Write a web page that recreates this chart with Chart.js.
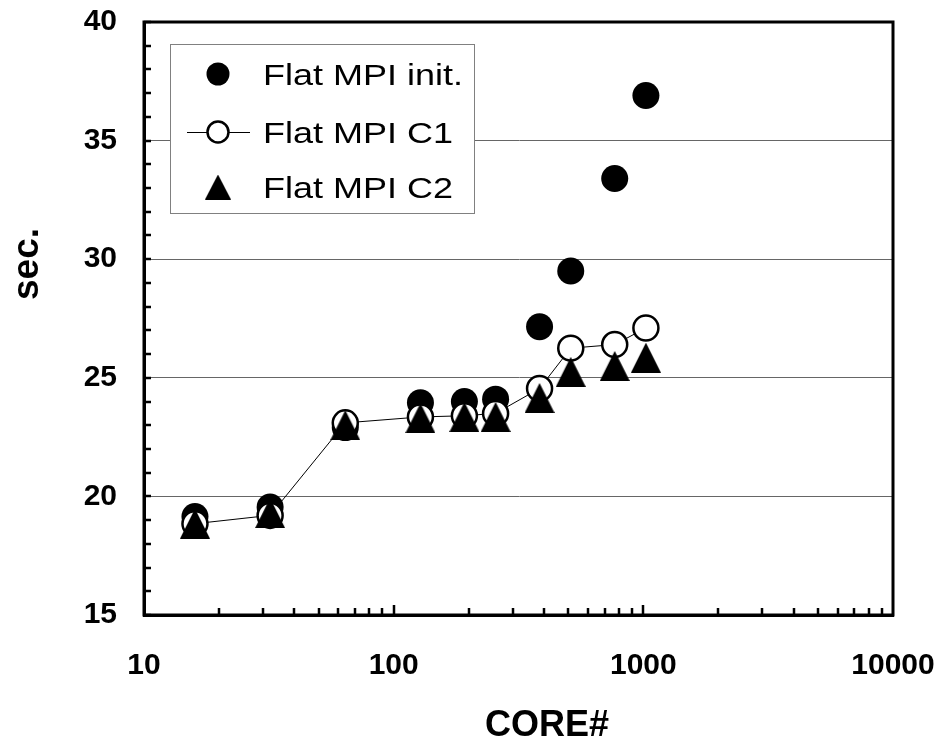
<!DOCTYPE html>
<html>
<head>
<meta charset="utf-8">
<script src="https://cdn.jsdelivr.net/npm/chart.js@4/dist/chart.umd.min.js"></script>
<style>
  html, body { margin: 0; background: #fff; }
</style>
</head>
<body>
<canvas id="chart" width="942" height="742"></canvas>
<script>
// values
const cores = [16, 32, 64, 128, 192, 256, 384, 512, 768, 1024]
const flatInit = [19.15, 19.55, 22.9, 23.95, 24.0, 24.1, 27.15, 29.5, 33.4, 36.9]
const flatC1 = [18.85, 19.2, 23.1, 23.35, 23.4, 23.5, 24.55, 26.25, 26.4, 27.1]
const flatC2 = [18.85, 19.3, 23.0, 23.3, 23.35, 23.35, 24.15, 25.25, 25.5, 25.85]
const seriesLabels = ['Flat MPI init.', 'Flat MPI C1', 'Flat MPI C2']
const xTicks = [10, 100, 1000, 10000]
const yTicks = [15, 20, 25, 30, 35, 40]

const FONT = "'Liberation Sans', Arial, sans-serif"

const toPoints = (ys) => cores.map((x, i) => ({ x, y: ys[i] }))

// Excel-style triangle marker (flat base, centred box)
function triangle(w, h) {
  const c = document.createElement('canvas')
  c.width = w
  c.height = h
  const g = c.getContext('2d')
  g.fillStyle = '#000'
  g.beginPath()
  g.moveTo(w / 2, 0)
  g.lineTo(w, h)
  g.lineTo(0, h)
  g.closePath()
  g.fill()
  return c
}

const triPlot = triangle(30, 30)
const triLegend = triangle(26, 25)

const frame = {
  id: 'frame',
  beforeDatasetsDraw(chart) {
    const { ctx, chartArea: a, scales } = chart
    ctx.save()
    ctx.strokeStyle = '#000'
    ctx.lineWidth = 3
    ctx.strokeRect(a.left, a.top, a.right - a.left, a.bottom - a.top)

    // inward minor ticks
    ctx.lineWidth = 2.5
    ctx.beginPath()
    for (let v = yTicks[0]; v <= yTicks[yTicks.length - 1]; v++) {
      const py = Math.round(scales.y.getPixelForValue(v))
      ctx.moveTo(a.left, py)
      ctx.lineTo(a.left + 7, py)
    }
    for (let d = 10; d < 10000; d *= 10) {
      for (let k = 1; k <= 9; k++) {
        if (k === 1 && d === 10) continue
        const px = Math.round(scales.x.getPixelForValue(k * d))
        ctx.moveTo(px, a.bottom)
        ctx.lineTo(px, a.bottom - (k === 1 ? 10 : 7))
      }
    }
    ctx.stroke()
    ctx.restore()
  },
  afterDraw(chart) {
    const { ctx } = chart
    ctx.save()

    // axis titles
    ctx.fillStyle = '#000'
    ctx.textAlign = 'center'
    ctx.textBaseline = 'alphabetic'
    ctx.font = `bold 36px ${FONT}`
    ctx.fillText('CORE#', 547, 736)
    ctx.translate(38, 264)
    ctx.rotate(-Math.PI / 2)
    ctx.font = `bold 37px ${FONT}`
    ctx.fillText('sec.', 0, 0)
    ctx.setTransform(1, 0, 0, 1, 0, 0)

    // legend box
    ctx.fillStyle = '#fff'
    ctx.fillRect(170, 44, 304, 169)
    ctx.strokeStyle = '#808080'
    ctx.lineWidth = 1
    ctx.strokeRect(170.5, 44.5, 304, 169)

    const rows = [74, 132, 187]
    const mx = 218

    ctx.fillStyle = '#000'
    ctx.beginPath()
    ctx.arc(mx, rows[0], 11.5, 0, Math.PI * 2)
    ctx.fill()

    ctx.strokeStyle = '#000'
    ctx.lineWidth = 1
    ctx.beginPath()
    ctx.moveTo(187, rows[1] + 0.5)
    ctx.lineTo(250, rows[1] + 0.5)
    ctx.stroke()
    ctx.fillStyle = '#fff'
    ctx.lineWidth = 2.5
    ctx.beginPath()
    ctx.arc(mx, rows[1], 10.5, 0, Math.PI * 2)
    ctx.fill()
    ctx.stroke()

    ctx.drawImage(triLegend, mx - 13, rows[2] - 12.5)

    ctx.fillStyle = '#000'
    ctx.textAlign = 'left'
    ctx.font = `30px ${FONT}`
    seriesLabels.forEach((label, i) => {
      ctx.save()
      ctx.translate(263, rows[i] + 11)
      ctx.scale(1.2, 1)
      ctx.fillText(label, 0, 0)
      ctx.restore()
    })
    ctx.restore()
  },
}

new Chart(document.getElementById('chart'), {
  type: 'scatter',
  data: {
    datasets: [
      {
        label: seriesLabels[0],
        data: toPoints(flatInit),
        order: 3,
        pointStyle: 'circle',
        pointRadius: 13.5,
        pointBorderWidth: 0,
        pointBackgroundColor: '#000',
        pointBorderColor: '#000',
      },
      {
        label: seriesLabels[1],
        data: toPoints(flatC1),
        order: 2,
        showLine: true,
        borderColor: '#000',
        borderWidth: 1,
        pointStyle: 'circle',
        pointRadius: 12.5,
        pointBorderWidth: 2.5,
        pointBackgroundColor: '#fff',
        pointBorderColor: '#000',
      },
      {
        label: seriesLabels[2],
        data: toPoints(flatC2),
        order: 1,
        pointStyle: triPlot,
        pointRadius: 15,
      },
    ],
  },
  options: {
    responsive: false,
    animation: false,
    devicePixelRatio: 1,
    layout: { padding: { left: 0, right: 49, top: 22, bottom: 0 } },
    plugins: {
      legend: { display: false },
      tooltip: { enabled: false },
    },
    scales: {
      x: {
        type: 'logarithmic',
        position: 'bottom',
        min: 10,
        max: 10000,
        afterBuildTicks: (s) => { s.ticks = xTicks.map((v) => ({ value: v })) },
        afterFit: (s) => {
          s.height = 127
          s.paddingLeft = 0
          s.paddingRight = 0
        },
        ticks: {
          color: '#000',
          font: { family: FONT, size: 30, weight: 'bold' },
          padding: 33,
          maxRotation: 0,
          autoSkip: false,
          callback: (v) => String(v),
        },
        grid: { display: false, drawTicks: false },
        border: { color: '#000', width: 3 },
      },
      y: {
        min: 15,
        max: 40,
        afterBuildTicks: (s) => { s.ticks = yTicks.map((v) => ({ value: v })) },
        afterFit: (s) => {
          s.width = 144
          s.paddingTop = 0
          s.paddingBottom = 0
        },
        ticks: {
          color: '#000',
          font: { family: FONT, size: 30, weight: 'bold' },
          padding: 27,
          callback: (v) => String(v),
        },
        grid: {
          drawTicks: false,
          lineWidth: 1,
          color: (c) => (c.tick && (c.tick.value === 15 || c.tick.value === 40) ? 'rgba(0,0,0,0)' : '#666'),
        },
        border: { color: '#000', width: 3 },
      },
    },
  },
  plugins: [frame],
})
</script>
</body>
</html>
